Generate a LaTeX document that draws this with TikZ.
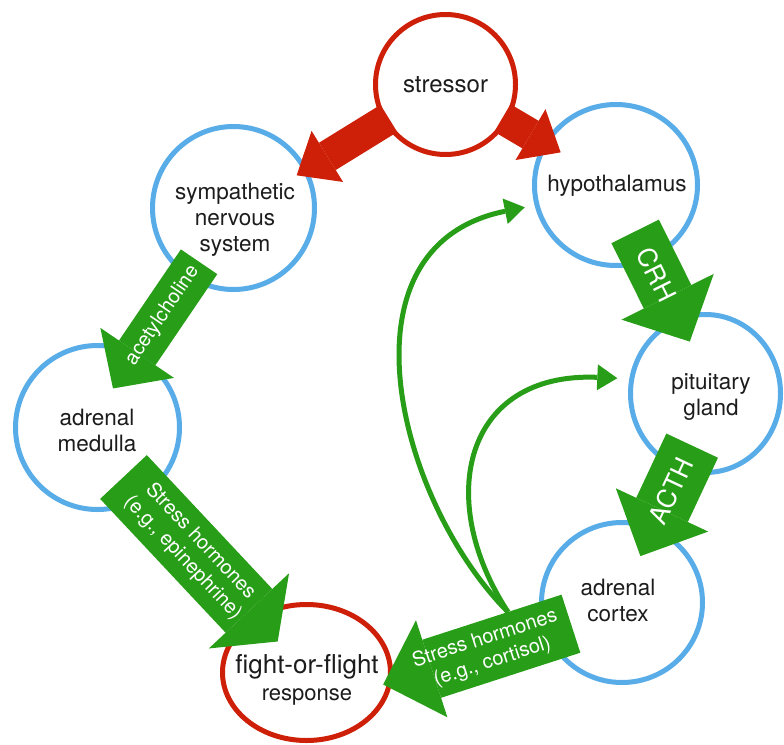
\documentclass[tikz,border=0pt]{standalone}
\usepackage{fontspec}
\setmainfont{TeX Gyre Heros}
\usetikzlibrary{arrows.meta,shapes.geometric,calc}

\definecolor{stressred}{RGB}{206,32,8}
\definecolor{organblue}{RGB}{88,172,232}
\definecolor{hormgreen}{RGB}{40,158,24}
\definecolor{inkgray}{RGB}{28,28,28}

\begin{document}
\begin{tikzpicture}[x=1pt, y=-1pt,
  organ/.style={ellipse, draw=#1, line width=5pt, inner sep=0pt},
  lbl/.style={align=center, text=inkgray, font=\fontsize{22.5}{26}\selectfont},
  blk/.style n args={4}{draw=#1, line width=#2, -{Triangle[length=#3, width=#4, line width=0pt]}},
  blktxt/.style={sloped, text=white, align=center, font=\fontsize{20}{24}\selectfont},
  feedback/.style={draw=hormgreen, line width=5pt, -{Triangle[length=20pt, width=26pt, line width=0pt]}}]
\useasboundingbox (0,0) rectangle (784,744);
\fill[white] (0,0) rectangle (784,744);

% circles
\node[organ=stressred, minimum width=140pt, minimum height=140pt] (stressor) at (445.5,84.5) {};
\node[organ=organblue, minimum width=162pt, minimum height=163pt] (symp) at (233.5,208) {};
\node[organ=organblue, minimum width=163pt, minimum height=161pt] (hypo) at (616,185) {};
\node[organ=organblue, minimum width=150pt, minimum height=158pt] (pit) at (705.5,393.5) {};
\node[organ=organblue, minimum width=164pt, minimum height=164pt] (medulla) at (97.5,427.5) {};
\node[organ=organblue, minimum width=161pt, minimum height=160pt] (cortex) at (622,602.5) {};
\node[organ=stressred, minimum width=168pt, minimum height=136pt] (fight) at (306.5,672.5) {};

% labels
\node[lbl, font=\fontsize{24}{28}\selectfont] (stressor-t) at (445.5,84.5) {stressor};
\node[lbl] (symp-t) at (235,220) {sympathetic\\nervous\\system};
\node[lbl] (hypo-t) at (617,186) {hypothalamus};
\node[lbl] (pit-t) at (711,397) {pituitary\\gland};
\node[lbl] (medulla-t) at (97,430) {adrenal\\medulla};
\node[lbl] (cortex-t) at (618,600) {adrenal\\cortex};
\node[lbl, font=\fontsize{22}{27}\selectfont] (fight-t) at (307,679.5) {{\fontsize{26}{27}\selectfont fight-or-flight}\\response};

% feedback loops
\coordinate (fb) at (508,612);
\draw[feedback, shorten >=10pt] (fb) .. controls +(-109,-109) and +(-203,41) .. (hypo.194);
\draw[feedback, shorten >=12pt] (fb) .. controls +(-74,-113) and +(-165,-7) .. (pit.169);

% block arrows
\draw[blk={stressred}{32pt}{36pt}{60pt}, shorten <=-6.5pt, shorten >=-12.5pt] (stressor.211.5) -- (symp.28);
\draw[blk={stressred}{32pt}{35pt}{59pt}, shorten <=-6.5pt, shorten >=-19.5pt] (stressor) -- (hypo);
\draw[blk={hormgreen}{44pt}{43pt}{89pt}, shorten <=-20pt, shorten >=-43pt] (symp.237) -- (medulla.62.5)
  node[blktxt, pos=.5] {acetylcholine};
\draw[blk={hormgreen}{53pt}{50pt}{103pt}, shorten <=-33pt, shorten >=-27pt] (hypo.-66.8) -- (pit.110.9)
  node[blktxt, pos=.24, font=\fontsize{26}{30}\selectfont] {CRH};
\draw[blk={hormgreen}{57pt}{51pt}{102pt}, shorten <=-27.6pt, shorten >=-32.7pt] (pit.252.3) -- (cortex.67.7)
  node[blktxt, pos=.36, font=\fontsize{26}{30}\selectfont] {ACTH};
\draw[blk={hormgreen}{64pt}{42pt}{110pt}, shorten <=-29.3pt, shorten >=-34.4pt] (medulla.-57) -- (fight.133.5)
  node[blktxt, pos=.435] {Stress hormones\\(e.g., epinephrine)};
\draw[blk={hormgreen}{61pt}{51pt}{102pt}, shorten <=-27.7pt, shorten >=-9.6pt] (cortex.201.3) -- (fight.-6.4)
  node[blktxt, pos=.367] {Stress hormones\\(e.g., cortisol)};
\end{tikzpicture}
\end{document}
